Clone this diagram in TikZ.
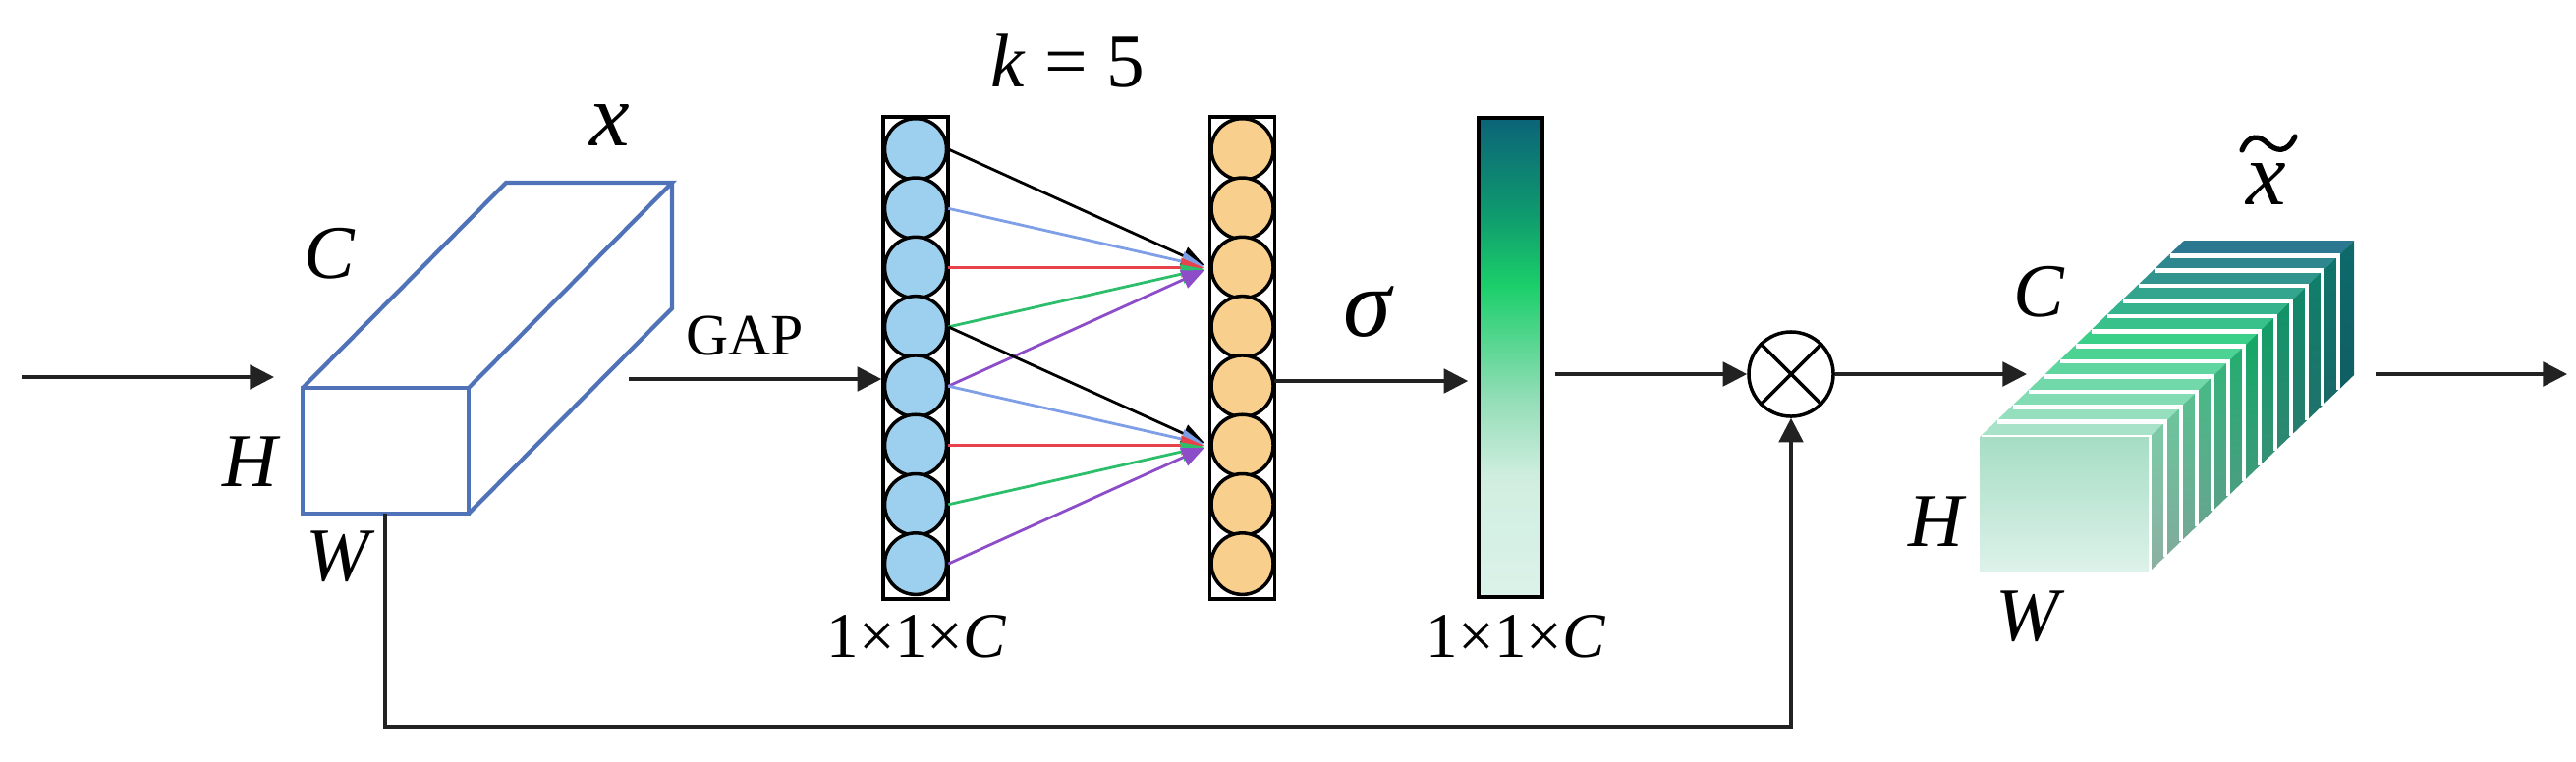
\documentclass[tikz,border=0pt]{standalone}
\usepackage{fontspec}
\setmainfont{Liberation Serif}
\usetikzlibrary{arrows.meta,shapes.geometric,calc}
\definecolor{boxblue}{HTML}{4F72B8}
\definecolor{cblue}{HTML}{9DD0EE}
\definecolor{corange}{HTML}{F9CF8E}
\definecolor{lblue}{HTML}{7E9EE6}
\definecolor{lred}{HTML}{E8424C}
\definecolor{lgreen}{HTML}{2DBE6C}
\definecolor{lpurple}{HTML}{8E4DC8}
\definecolor{lgray}{HTML}{222222}
% bar gradient colours
\definecolor{bc0}{HTML}{DCF2EA}
\definecolor{bc1}{HTML}{D0EEE0}
\definecolor{bc2}{HTML}{90DDB5}
\definecolor{bc3}{HTML}{1BCF6A}
\definecolor{bc4}{HTML}{0F9A6E}
\definecolor{bc5}{HTML}{0B6478}
\pgfdeclareverticalshading{barshade}{100bp}{color(0bp)=(bc0); color(25bp)=(bc0); color(37.5bp)=(bc1); color(46bp)=(bc2); color(57.5bp)=(bc3); color(65bp)=(bc4); color(75bp)=(bc5); color(100bp)=(bc5)}
% stack colours: F front, M middle, B back
\definecolor{tF}{HTML}{A8E2C8}\definecolor{tM}{HTML}{3AD08A}\definecolor{tB}{HTML}{2C7890}
\definecolor{rF}{HTML}{7CCBA7}\definecolor{rM}{HTML}{12A865}\definecolor{rB}{HTML}{0E6A6C}
\definecolor{sF}{HTML}{8CAFA2}\definecolor{sM}{HTML}{3F9A7B}\definecolor{sB}{HTML}{0F5E63}
\definecolor{ffTop}{HTML}{A6DDC4}\definecolor{ffBot}{HTML}{DDF2EA}
\tikzset{
  conn/.style={draw=lgray, line width=1pt},
  arr/.style={conn, -{Triangle[length=7pt,width=7pt]}},
  carr/.style={line width=0.8pt, -{Triangle[length=6.5pt,width=5.5pt]}, shorten >=0.06cm},
  boxedge/.style={draw=boxblue, line width=1.2pt, line join=miter},
  lbl/.style={font=\fontsize{22}{26}\selectfont\itshape, inner sep=0pt},
  dimlbl/.style={font=\fontsize{18.5}{22}\selectfont, inner sep=0pt},
  colbox/.style={draw=black, line width=1pt, minimum width=0.66cm, minimum height=4.91cm, inner sep=0pt},
  ball/.style={ellipse, draw=black, line width=1pt, minimum width=0.63cm, minimum height=0.625cm, inner sep=0pt},
}
\begin{document}
\begin{tikzpicture}[x=0.01cm,y=-0.01cm]
\useasboundingbox (0,0) rectangle (2622,775);

% ---------------- input feature map x ----------------
\coordinate (fTL) at (308,395);
\coordinate (fTR) at (477,395);
\coordinate (fBR) at (477,523);
\coordinate (fBL) at (308,523);
\coordinate (bTL) at (515,186);
\coordinate (bTR) at (684,186);
\coordinate (bBR) at (684,314);
\fill[white] (fTL) -- (bTL) -- (bTR) -- (bBR) -- (fBR) -- (fBL) -- cycle;
\draw[boxedge] (fTL) rectangle (fBR);
\draw[boxedge] (fTL) -- (bTL) -- (bTR) -- (fTR);
\draw[boxedge] (bTR) -- (bBR) -- (fBR);
\node[lbl, font=\fontsize{26}{30}\selectfont\itshape] (xl) at (621,128) {x};
\node[lbl] (cl) at (335,258) {C};
\node[lbl] (hl) at (254,470) {H};
\node[lbl] (wl) at (344,567) {W};

\coordinate (inS) at (22,384);
\coordinate (inE) at (279,384);
\draw[arr] (inS) -- (inE);

% ---------------- GAP column ----------------
\node[colbox] (gcol) at (932,364.5) {};
\foreach \j in {1,...,8}{
  \node[ball, fill=cblue] (b\j) at (932,{152+60.3*(\j-1)}) {};
}
\node[colbox] (ocol) at (1264.5,364.5) {};
\foreach \j in {1,...,8}{
  \node[ball, fill=corange] (o\j) at (1264.5,{152+60.3*(\j-1)}) {};
}
\coordinate (gapS) at (640,386);
\draw[arr] (gapS) -- (gcol.west |- gapS);
\node[font=\fontsize{17}{20}\selectfont, inner sep=0pt] (gapl) at (758,342) {GAP};
\node[lbl, font=\fontsize{22}{26}\selectfont] (kl) at (1087,62) {\textit{k} = 5};
\node[dimlbl] (d1) at (933,648) {1\texttimes1\texttimes\textit{C}};

% local cross-channel interaction (k = 5)
\draw[carr, black]   (b1.east) -- (o3.west);
\draw[carr, lblue]   (b2.east) -- (o3.west);
\draw[carr, lred]    (b3.east) -- (o3.west);
\draw[carr, lgreen]  (b4.east) -- (o3.west);
\draw[carr, lpurple] (b5.east) -- (o3.west);
\draw[carr, black]   (b4.east) -- (o6.west);
\draw[carr, lblue]   (b5.east) -- (o6.west);
\draw[carr, lred]    (b6.east) -- (o6.west);
\draw[carr, lgreen]  (b7.east) -- (o6.west);
\draw[carr, lpurple] (b8.east) -- (o6.west);

% ---------------- sigmoid bar ----------------
\node[draw=black, line width=1pt, minimum width=0.65cm, minimum height=4.88cm, inner sep=0pt, shading=barshade] (bar) at (1537.5,364) {};
\node[lbl, font=\fontsize{28}{32}\selectfont\itshape] (sig) at (1392,318) {σ};
\node[dimlbl] (d2) at (1543,648) {1\texttimes1\texttimes\textit{C}};
\coordinate (sigS) at (1297,388);
\draw[arr, shorten >=0.09cm] (sigS) -- (bar.west |- sigS);

% ---------------- multiplication ----------------
\node[circle, draw=black, line width=1pt, minimum size=0.86cm, inner sep=0pt] (mul) at (1823,381) {};
\draw[black, line width=1pt] (mul.45) -- (mul.225) (mul.135) -- (mul.315);
\draw[arr, shorten <=0.11cm] (bar.east |- mul) -- (mul.west);

% skip connection
\coordinate (sk0) at (392,523);
\coordinate (sk1) at (392,740);
\draw[arr] (sk0) -- (sk1) -| (mul.south);

% ---------------- output stack ----------------
\def\xa{2015}\def\xb{2188}\def\ya{445}\def\yb{582}
\def\dx{208}\def\dy{-200}
\foreach \i in {12,11,...,0}{
  \pgfmathsetmacro{\pa}{min(100,\i/12*200)}
  \pgfmathsetmacro{\pb}{max(0,(\i/12-0.5)*200)}
  \colorlet{ta}{tM!\pa!tF}\colorlet{tt}{tB!\pb!ta}
  \colorlet{ra}{rM!\pa!rF}\colorlet{rr}{rB!\pb!ra}
  \colorlet{sa}{sM!\pa!sF}\colorlet{ss}{sB!\pb!sa}
  \pgfmathsetmacro{\a}{\i/13}
  \pgfmathsetmacro{\b}{(\i+1)/13}
  \fill[tt] ({\xa+\a*\dx},{\ya+\a*\dy}) -- ({\xb+\a*\dx},{\ya+\a*\dy}) -- ({\xb+\b*\dx},{\ya+\b*\dy}) -- ({\xa+\b*\dx},{\ya+\b*\dy}) -- cycle;
  \shade[top color=rr, bottom color=ss] ({\xb+\a*\dx},{\ya+\a*\dy}) -- ({\xb+\b*\dx},{\ya+\b*\dy}) -- ({\xb+\b*\dx},{\yb+\b*\dy}) -- ({\xb+\a*\dx},{\yb+\a*\dy}) -- cycle;
}
\foreach \i in {12,11,...,0}{
  \pgfmathsetmacro{\a}{\i/13}
  \draw[white, line width=1.3pt] ({\xa+\a*\dx+2},{\ya+\a*\dy}) -- ({\xb+\a*\dx},{\ya+\a*\dy}) -- ({\xb+\a*\dx},{\yb+\a*\dy});
}
\shade[top color=ffTop, bottom color=ffBot] (\xa,\ya) rectangle (\xb-1,\yb);
\coordinate (stkIn) at (2063,381);
\draw[arr] (mul.east) -- (stkIn);
\node[lbl] (cl2) at (2075,297) {C};
\node[lbl] (hl2) at (1970,531) {H};
\node[lbl] (wl2) at (2064,628) {W};
\node[lbl, font=\fontsize{26}{30}\selectfont\itshape] (xt) at (2307,188) {x};
\draw[black, line width=1.5pt, line cap=round] (2282,153) .. controls (2289,136) and (2300,138) .. (2308,146) .. controls (2316,154) and (2328,157) .. (2336,139);
\coordinate (outS) at (2418,381);
\coordinate (outE) at (2613,381);
\draw[arr] (outS) -- (outE);
\end{tikzpicture}
\end{document}
